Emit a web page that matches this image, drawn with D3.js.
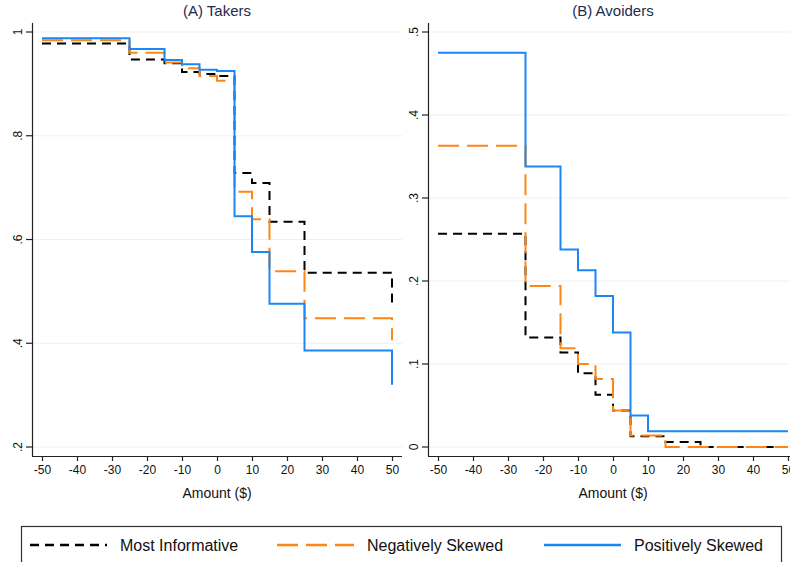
<!DOCTYPE html>
<html>
<head>
<meta charset="utf-8">
<script src="https://cdn.jsdelivr.net/npm/d3@7"></script>
<style>
  body { margin: 0; background: #fff; }
  svg { display: block; font-family: "Liberation Sans", Arial, sans-serif; }
</style>
</head>
<body>
<svg width="790" height="562"></svg>
<script>
// amounts where each step starts (last one = end of the line)
var amounts = [-50, -25, -15, -10, -5, 0, 5, 10, 15, 25, 50];

// (A) Takers
var takersMost = [0.978, 0.947, 0.940, 0.923, 0.919, 0.915, 0.728, 0.709, 0.634, 0.536, 0.473];
var takersNeg  = [0.984, 0.960, 0.941, 0.930, 0.915, 0.906, 0.692, 0.639, 0.539, 0.448, 0.406];
var takersPos  = [0.988, 0.967, 0.946, 0.938, 0.927, 0.925, 0.645, 0.576, 0.476, 0.386, 0.320];

// (B) Avoiders
var avoidMost = [0.257, 0.132, 0.114, 0.089, 0.063, 0.044, 0.013, 0.013, 0.006, 0.000, 0.000];
var avoidNeg  = [0.363, 0.194, 0.119, 0.100, 0.082, 0.044, 0.014, 0.014, 0.000, 0.000, 0.000];
var avoidPos  = [0.475, 0.338, 0.238, 0.213, 0.182, 0.138, 0.038, 0.019, 0.019, 0.019, 0.019];

var xTicks = [-50, -40, -30, -20, -10, 0, 10, 20, 30, 40, 50];
var takersTicks = [1, 0.8, 0.6, 0.4, 0.2];
var takersTickLabels = ["1", ".8", ".6", ".4", ".2"];
var avoidTicks = [0.5, 0.4, 0.3, 0.2, 0.1, 0];
var avoidTickLabels = [".5", ".4", ".3", ".2", ".1", "0"];

var seriesNames = ["Most Informative", "Negatively Skewed", "Positively Skewed"];
var seriesColors = ["#000000", "#ff8515", "#1a87f5"];
var seriesDash = ["9,6", "21,8", null];

var svg = d3.select("svg");

function panel(opts) {
  var g = svg.append("g");

  var x = d3.scaleLinear().domain([-50, 50]).range([opts.left + 10, opts.left + 360]);
  var y = d3.scaleLinear().domain(opts.yDomain).range([447, 32]);

  // gridlines
  g.selectAll(".grid")
    .data(opts.ticks)
    .enter().append("line")
      .attr("x1", opts.left).attr("x2", opts.left + 370)
      .attr("y1", function(d) { return y(d); })
      .attr("y2", function(d) { return y(d); })
      .style("stroke", "#eaf1f3")
      .style("stroke-width", 1);

  // step lines
  var line = d3.line()
      .x(function(d) { return x(d[0]); })
      .y(function(d) { return y(d[1]); })
      .curve(d3.curveStepAfter);

  opts.series.forEach(function(vals, i) {
    g.append("path")
      .datum(amounts.map(function(a, j) { return [a, vals[j]]; }))
      .attr("d", line)
      .style("fill", "none")
      .style("stroke", seriesColors[i])
      .style("stroke-width", 2)
      .style("stroke-dasharray", seriesDash[i]);
  });

  // x axis (plain hyphen for negatives, like the original)
  var xAxis = g.append("g")
      .attr("transform", "translate(0,456)")
      .call(d3.axisBottom(x).tickValues(xTicks)
        .tickFormat(function(d) { return String(d); })
        .tickSizeInner(5).tickSizeOuter(0).tickPadding(4));
  xAxis.select(".domain").attr("d", "M" + opts.left + ",0.5H" + (opts.left + 370));

  // y axis
  var yAxis = g.append("g")
      .attr("transform", "translate(" + opts.left + ",0)")
      .call(d3.axisLeft(y).tickValues(opts.ticks)
        .tickFormat(function(d, i) { return opts.tickLabels[i]; })
        .tickSizeInner(6).tickSizeOuter(0).tickPadding(4));
  yAxis.select(".domain").attr("d", "M0.5,23V456");
  yAxis.selectAll("text")
      .attr("transform", function(d) { return "rotate(-90," + (-14) + "," + y(d) + ")"; })
      .attr("x", -14)
      .attr("y", function(d) { return y(d); })
      .attr("dy", "0.35em")
      .style("text-anchor", "middle");
  yAxis.selectAll(".tick").attr("transform", null);
  yAxis.selectAll(".tick line")
      .attr("y1", function(d) { return y(d); })
      .attr("y2", function(d) { return y(d); });

  g.selectAll(".domain, .tick line").style("stroke", "#222").style("stroke-width", 1.2);
  g.selectAll(".tick text").style("font-size", "12px").style("fill", "#111");

  // title and axis label
  g.append("text")
      .attr("x", opts.left + 185).attr("y", 16)
      .attr("text-anchor", "middle")
      .style("font-size", "15px")
      .style("fill", "#1e2b4e")
      .text(opts.title);

  g.append("text")
      .attr("x", opts.left + 185).attr("y", 498)
      .attr("text-anchor", "middle")
      .style("font-size", "14px")
      .style("fill", "#111")
      .text("Amount ($)");
}

panel({ left: 32, yDomain: [0.2, 1], ticks: takersTicks, tickLabels: takersTickLabels,
        series: [takersMost, takersNeg, takersPos], title: "(A) Takers" });
panel({ left: 428, yDomain: [0, 0.5], ticks: avoidTicks, tickLabels: avoidTickLabels,
        series: [avoidMost, avoidNeg, avoidPos], title: "(B) Avoiders" });

// legend
var legend = svg.append("g");
legend.append("rect")
    .attr("x", 21.5).attr("y", 526.5)
    .attr("width", 760).attr("height", 60)
    .style("fill", "#fff")
    .style("stroke", "#333")
    .style("stroke-width", 1.2);

var legendX = [30, 277, 544];
seriesNames.forEach(function(name, i) {
  legend.append("line")
      .attr("x1", legendX[i]).attr("x2", legendX[i] + 77)
      .attr("y1", 545).attr("y2", 545)
      .style("stroke", seriesColors[i])
      .style("stroke-width", 2.5)
      .style("stroke-dasharray", seriesDash[i]);
  legend.append("text")
      .attr("x", legendX[i] + 90).attr("y", 551)
      .style("font-size", "16px")
      .style("fill", "#111")
      .text(name);
});
</script>
</body>
</html>
